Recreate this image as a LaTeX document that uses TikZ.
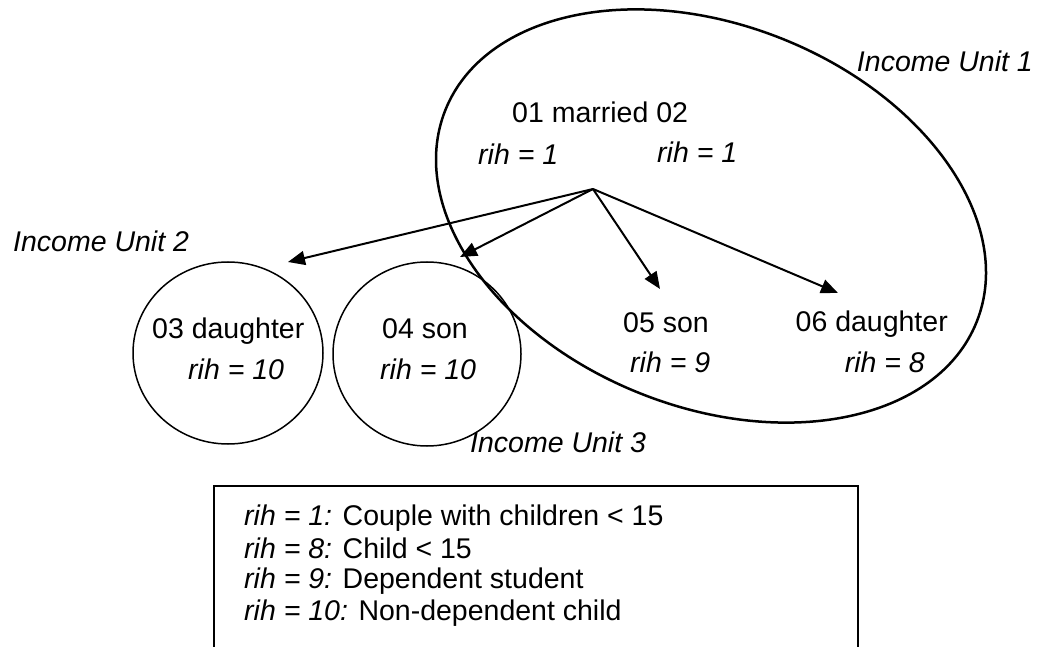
\documentclass[tikz,border=0pt]{standalone}
\usepackage{fontspec}
\setmainfont{Liberation Sans}
\usetikzlibrary{arrows.meta}
\begin{document}
\begin{tikzpicture}[x=1pt,y=1pt,
  txt/.style={inner sep=0pt,font=\fontsize{28.5}{31.7}\selectfont},
  itxt/.style={txt,font=\fontsize{28.5}{31.7}\selectfont\itshape},
  unit/.style={line width=1.5pt},
  arr/.style={line width=2pt,-{Triangle[length=17pt,width=14pt]}}]
\useasboundingbox (0,0) rectangle (1041,646);
% Income unit 1 ellipse
\draw[line width=2.5pt,rotate around={-21.7:(711,430)}] (711,430) ellipse [x radius=286, y radius=191];
% circles
\draw[unit] (228,293) ellipse [x radius=95, y radius=91];
\draw[unit] (427,292) ellipse [x radius=94, y radius=92];
% texts
\node[itxt,anchor=base east] (iu1) at (1033,574) {Income Unit 1};
\node[txt,anchor=base west] (par) at (512,523) {01 married 02};
\node[itxt,anchor=base west] (r1a) at (478,481) {rih = 1};
\node[itxt,anchor=base west] (r1b) at (657,483) {rih = 1};
\node[itxt,anchor=base west] (iu2) at (13,394) {Income Unit 2};
\node[itxt,anchor=base west] (iu3) at (470,194) {Income Unit 3};
\node[txt,anchor=base west] (c3) at (152,308) {03 daughter};
\node[itxt,anchor=base west] (r3) at (188,266) {rih = 10};
\node[txt,anchor=base west] (c4) at (382,308) {04 son};
\node[itxt,anchor=base west] (r4) at (380,266) {rih = 10};
\node[txt,anchor=base west] (c5) at (623,313) {05 son};
\node[itxt,anchor=base west] (r5) at (630,273) {rih = 9};
\node[txt,anchor=base east] (c6) at (948,314) {06 daughter};
\node[itxt,anchor=base east] (r6) at (925,274) {rih = 8};
% arrows
\coordinate (o) at (593,457);
\coordinate (t3) at (288,384);
\coordinate (t4) at (460,389);
\coordinate (t5) at (660,357);
\coordinate (t6) at (838,353);
\draw[arr] (o) -- (t3);
\draw[arr] (o) -- (t4);
\draw[arr] (o) -- (t5);
\draw[arr] (o) -- (t6);
% legend box (bottom cut off)
\coordinate (bl) at (214,-5);
\coordinate (tl) at (214,160);
\coordinate (tr) at (858,160);
\coordinate (br) at (858,-5);
\draw[line width=1.5pt] (bl) -- (tl) -- (tr) -- (br);
\node[txt,anchor=base west] (l1) at (244,121) {\itshape rih = 1:\upshape{} Couple with children < 15};
\node[txt,anchor=base west] (l2) at (244,88) {\itshape rih = 8:\upshape{} Child < 15};
\node[txt,anchor=base west] (l3) at (244,58) {\itshape rih = 9:\upshape{} Dependent student};
\node[txt,anchor=base west] (l4) at (244,26) {\itshape rih = 10:\upshape{} Non-dependent child};
\end{tikzpicture}
\end{document}
